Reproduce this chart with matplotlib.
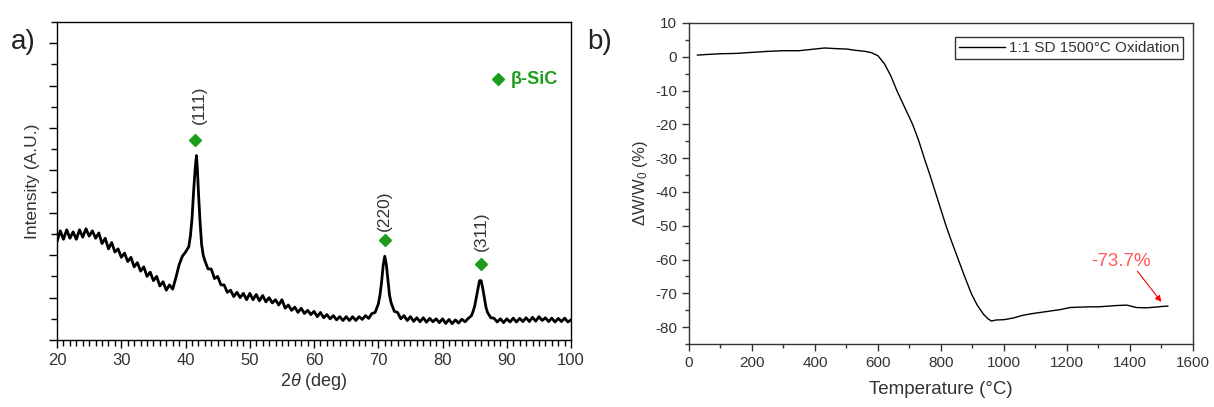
import numpy as np
import matplotlib
matplotlib.use("Agg")
import matplotlib.pyplot as plt
from matplotlib.ticker import MultipleLocator

plt.rcParams['font.family'] = ['Liberation Sans', 'DejaVu Sans']
plt.rcParams['mathtext.fontset'] = 'custom'
plt.rcParams['mathtext.rm'] = 'Liberation Sans'
plt.rcParams['mathtext.it'] = 'Liberation Sans:italic'
plt.rcParams['axes.unicode_minus'] = False

# ---------------- Data: XRD (panel a) ----------------
two_theta = [
    20.0, 20.5, 21.0, 21.5, 22.0, 22.5, 23.0, 23.5, 24.0, 24.5, 25.0, 25.5, 26.0, 26.5,
    27.0, 27.5, 28.0, 28.5, 29.0, 29.5, 30.0, 30.5, 31.0, 31.5, 32.0, 32.5, 33.0, 33.5,
    34.0, 34.5, 35.0, 35.5, 36.0, 36.5, 37.0, 37.5, 38.0, 38.5, 39.0, 39.5, 40.0, 40.5,
    40.75, 41.0, 41.25, 41.5, 41.7, 41.85, 42.0, 42.25, 42.5, 42.75,
    43.0, 43.5, 44.0, 44.5, 45.0, 45.5, 46.0, 46.5, 47.0, 47.5, 48.0, 48.5, 49.0, 49.5,
    50.0, 50.5, 51.0, 51.5, 52.0, 52.5, 53.0, 53.5, 54.0, 54.5, 55.0, 55.5, 56.0, 56.5,
    57.0, 57.5, 58.0, 58.5, 59.0, 59.5, 60.0, 60.5, 61.0, 61.5, 62.0, 62.5, 63.0, 63.5,
    64.0, 64.5, 65.0, 65.5, 66.0, 66.5, 67.0, 67.5, 68.0, 68.5, 69.0, 69.5, 70.0,
    70.25, 70.5, 70.75, 71.0, 71.25, 71.5, 71.75,
    72.0, 72.5, 73.0, 73.5, 74.0, 74.5, 75.0, 75.5, 76.0, 76.5, 77.0, 77.5, 78.0, 78.5,
    79.0, 79.5, 80.0, 80.5, 81.0, 81.5, 82.0, 82.5, 83.0, 83.5, 84.0, 84.5,
    84.75, 85.0, 85.25, 85.5, 85.75, 86.0, 86.25, 86.5, 86.75,
    87.0, 87.5, 88.0, 88.5, 89.0, 89.5, 90.0, 90.5, 91.0, 91.5, 92.0, 92.5, 93.0, 93.5,
    94.0, 94.5, 95.0, 95.5, 96.0, 96.5, 97.0, 97.5, 98.0, 98.5, 99.0, 99.5, 100.0,
]
intensity = [
    4.65, 5.15, 4.75, 5.20, 4.80, 5.10, 4.75, 5.20, 4.85, 5.25, 4.90, 5.15, 4.80, 5.05,
    4.55, 4.80, 4.30, 4.60, 4.15, 4.30, 3.90, 4.10, 3.70, 3.90, 3.45, 3.65, 3.25, 3.45,
    3.00, 3.20, 2.80, 3.00, 2.55, 2.75, 2.35, 2.60, 2.40, 2.95, 3.55, 3.95, 4.15, 4.40,
    4.90, 5.70, 7.00, 8.10, 8.70, 8.00, 7.00, 5.60, 4.50, 4.00,
    3.75, 3.35, 3.35, 2.90, 3.00, 2.60, 2.60, 2.25, 2.35, 2.05, 2.25, 2.00, 2.20, 1.90,
    2.20, 1.90, 2.15, 1.85, 2.10, 1.80, 2.00, 1.75, 1.90, 1.65, 1.90, 1.50, 1.65, 1.40,
    1.55, 1.30, 1.50, 1.25, 1.40, 1.20, 1.35, 1.10, 1.30, 1.05, 1.20, 1.00, 1.15, 0.95,
    1.10, 0.92, 1.10, 0.92, 1.10, 0.92, 1.10, 0.97, 1.15, 1.02, 1.25, 1.30, 1.70,
    2.10, 2.70, 3.50, 3.95, 3.55, 2.80, 2.10,
    1.75, 1.35, 1.30, 1.00, 1.15, 0.92, 1.10, 0.88, 1.05, 0.86, 1.05, 0.84, 1.02, 0.86,
    1.00, 0.82, 1.00, 0.78, 0.97, 0.77, 0.95, 0.80, 0.98, 0.86, 1.02, 1.15,
    1.35, 1.60, 2.00, 2.40, 2.80, 2.80, 2.45, 2.00, 1.55,
    1.30, 1.05, 1.03, 0.85, 1.00, 0.82, 1.00, 0.85, 1.03, 0.85, 1.02, 0.87, 1.05, 0.87,
    1.07, 0.89, 1.10, 0.92, 1.05, 0.87, 1.03, 0.85, 1.02, 0.87, 1.03, 0.85, 0.95,
]
peak_labels = ['(111)', '(220)', '(311)']
peak_pos = [41.5, 71.0, 86.0]
peak_marker_y = [9.42, 4.72, 3.57]
peak_text_y = [10.2, 5.15, 4.2]
peak_text_x = [42.1, 71.0, 86.0]

# ---------------- Data: TGA (panel b) ----------------
temperature = [
    27, 60, 100, 150, 200, 250, 300, 350, 400, 430, 470, 500, 530, 560, 580, 600,
    620, 640, 660, 685, 710, 730, 747, 765, 782, 799, 816, 835, 855, 875, 896, 915,
    935, 950, 960, 975, 1000, 1030, 1060, 1090, 1120, 1150, 1180, 1210, 1240, 1270,
    1300, 1330, 1360, 1390, 1420, 1450, 1480, 1500, 1520,
]
weight_change = [
    0.5, 0.7, 0.9, 1.0, 1.3, 1.6, 1.8, 1.8, 2.3, 2.6, 2.4, 2.3, 1.9, 1.6, 1.2, 0.3,
    -2.0, -5.5, -10.0, -15.0, -20.0, -25.0, -30.0, -35.0, -40.0, -45.0, -50.0, -55.0,
    -60.0, -65.0, -70.0, -73.5, -76.2, -77.6, -78.2, -77.9, -77.8, -77.3, -76.5, -76.0,
    -75.6, -75.2, -74.8, -74.2, -74.1, -74.0, -74.0, -73.8, -73.6, -73.5, -74.2, -74.3,
    -74.1, -73.9, -73.8,
]
series_label = '1:1 SD 1500°C Oxidation'
final_label = '-73.7%'

green = '#1c9e1c'
tick_col = '#333333'

fig = plt.figure(figsize=(12.14, 4.07), dpi=100)

# ---------------- Panel a ----------------
ax1 = fig.add_axes([0.0470, 0.1646, 0.4234, 0.7813])
ax1.plot(two_theta, intensity, color='black', lw=2.0)
ax1.set_xlim(20, 100)
ax1.set_ylim(0, 15)
ax1.xaxis.set_major_locator(MultipleLocator(10))
ax1.xaxis.set_minor_locator(MultipleLocator(1))
ax1.yaxis.set_major_locator(MultipleLocator(2))
ax1.yaxis.set_minor_locator(MultipleLocator(1))
ax1.tick_params(axis='both', which='major', direction='out', length=6, width=1, colors='black',
                labelcolor=tick_col, labelsize=12)
ax1.tick_params(axis='both', which='minor', direction='out', length=4, width=1, colors='black')
ax1.tick_params(axis='y', which='both', labelleft=False)
for s in ax1.spines.values():
    s.set_linewidth(1.0)
ax1.set_xlabel(r'2$\it{\theta}$ (deg)', fontsize=13, color=tick_col, labelpad=2)
ax1.set_ylabel('Intensity (A.U.)', fontsize=12.5, color=tick_col, labelpad=6)

for lab, px, my, tx, ty in zip(peak_labels, peak_pos, peak_marker_y, peak_text_x, peak_text_y):
    ax1.plot([px], [my], marker='D', color=green, ms=6.5, mec=green)
    ax1.text(tx, ty, lab, rotation=90, ha='center', va='bottom', fontsize=12.5, color=tick_col)

ax1.plot([88.7], [12.3], marker='D', color=green, ms=6.5, mec=green)
ax1.text(90.6, 12.3, 'β-SiC', color=green, fontsize=13, fontweight='bold', va='center', ha='left')

fig.text(0.009, 0.88, 'a)', fontsize=20, color='#222222')

# ---------------- Panel b ----------------
ax2 = fig.add_axes([0.5675, 0.1548, 0.4152, 0.7887])
ax2.plot(temperature, weight_change, color='black', lw=1.0, label=series_label)
ax2.set_xlim(0, 1600)
ax2.set_ylim(-85, 10)
ax2.xaxis.set_major_locator(MultipleLocator(200))
ax2.xaxis.set_minor_locator(MultipleLocator(100))
ax2.yaxis.set_major_locator(MultipleLocator(10))
ax2.yaxis.set_minor_locator(MultipleLocator(5))
ax2.tick_params(axis='both', which='major', direction='out', length=5, width=1, colors='#333333',
                labelcolor=tick_col, labelsize=11)
ax2.tick_params(axis='both', which='minor', direction='out', length=3, width=1, colors='#333333')
for s in ax2.spines.values():
    s.set_linewidth(1.0)
    s.set_color('#333333')
ax2.set_xlabel('Temperature (°C)', fontsize=13.5, color=tick_col, labelpad=8)
ax2.set_ylabel(r'$\Delta$W/W$_0$ (%)', fontsize=12, color=tick_col, labelpad=4)

leg = ax2.legend(loc='upper right', bbox_to_anchor=(0.981, 0.955), fontsize=11, frameon=True,
                 fancybox=False, borderpad=0.25, handlelength=3.0, handletextpad=0.3,
                 borderaxespad=0.0)
leg.get_frame().set_edgecolor('black')
leg.get_frame().set_linewidth(1.0)
for t in leg.get_texts():
    t.set_color(tick_col)

ax2.annotate('', xy=(1505, -73.2), xytext=(1418, -62.8),
             arrowprops=dict(arrowstyle='-|>', color='red', lw=0.8, mutation_scale=9))
ax2.text(1370, -60.5, final_label, color='#ff5a5a', fontsize=13.5, ha='center', va='center')

fig.text(0.484, 0.88, 'b)', fontsize=20, color='#222222')

fig.savefig('out.png', dpi=100)
